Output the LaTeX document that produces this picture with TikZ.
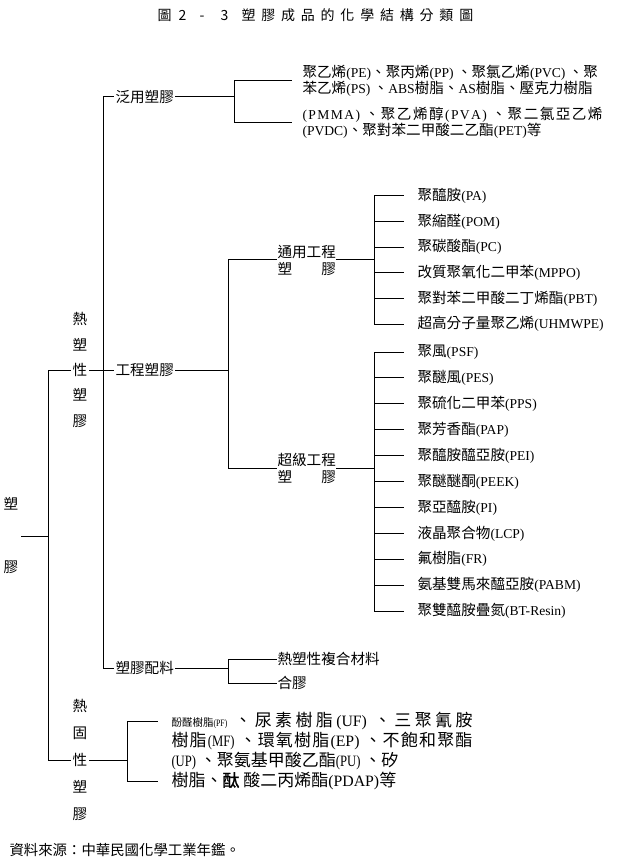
\documentclass[tikz,border=0pt]{standalone}
\usepackage{fontspec}
\usepackage{graphicx}
\setmainfont{Noto Sans CJK TC}
\newfontfamily\latinfont{Liberation Serif}[Scale=0.93]
\newcommand\latn[1]{{\latinfont #1}}
\newcommand\nlatn[1]{\scalebox{0.8}[1]{\latinfont #1}}
\newcommand\dg{\hskip 0pt plus 1fil\relax}
\newcommand\spreadto[2]{\makebox[#1][s]{#2}}
\newcommand\tch[1]{\makebox[21pt][l]{#1}}
\newcommand\tcm[1]{\makebox[19.8pt][l]{#1}}
\tikzset{
  base/.style={inner sep=0pt, font=\fontsize{14.6}{17}\selectfont},
  cat/.style={base, anchor=west, inner xsep=1pt},
  leaf/.style={base, anchor=west, inner xsep=13pt},
  col/.style={base, align=center, inner xsep=1.5pt},
  para/.style={base, anchor=west, align=left}
}
\begin{document}
\begin{tikzpicture}[x=1pt,y=-1pt,line width=1pt]
\useasboundingbox (0,0) rectangle (625,866);

% title
\node[base, anchor=west, font=\fontsize{14}{16}\selectfont] (title) at (157,15)
  {\tch{圖}\tch{2}\tch{-}\tch{3}\tcm{塑}\tcm{膠}\tcm{成}\tcm{品}\tcm{的}\tcm{化}\tcm{學}\tcm{結}\tcm{構}\tcm{分}\tcm{類}圖};

% root and first level
\node[col, font=\fontsize{14.6}{63}\selectfont, inner xsep=2.5pt] (root) at (11,536) {塑\\膠};
\node[col, font=\fontsize{14.6}{25.3}\selectfont] (tp) at (80,370) {熱\\塑\\性\\塑\\膠};
\node[col, font=\fontsize{14.6}{27}\selectfont] (tg) at (80,760) {熱\\固\\性\\塑\\膠};
\coordinate (L1) at (48,370);
\coordinate (L2) at (48,760);
\draw (root.east) -- (root.east -| L1);
\draw (tp.west) -- (L1) -- (L2) -- (tg.west);

% thermoplastic categories
\node[cat] (fy) at (114,97) {泛用塑膠};
\node[cat] (gc) at (114,370) {工程塑膠};
\node[cat] (pj) at (114,668) {塑膠配料};
\coordinate (M1) at (103,97);
\coordinate (M2) at (103,668);
\draw (M1) -- (fy.west);
\draw (M1) -- (M2) -- (pj.west);
\draw (tp.east) -- (gc.west);

% general purpose plastics
\node[para, inner xsep=10pt, font=\fontsize{14.6}{15}\selectfont] (fa) at (292,80.5)
  {聚乙烯\latn{(PE)}、聚丙烯\latn{(PP)} 、聚氯乙烯\latn{(PVC)} 、聚\\苯乙烯\latn{(PS)} 、\latn{ABS}樹脂、\latn{AS}樹脂、壓克力樹脂};
\node[para, inner xsep=10pt, font=\fontsize{14.6}{15}\selectfont] (fb) at (292,123)
  {\spreadto{300pt}{\latn{(\dg P\dg M\dg M\dg A\dg )} \dg 、\dg 聚\dg 乙\dg 烯\dg 醇\dg\latn{(\dg P\dg V\dg A\dg )} \dg 、\dg 聚\dg 二\dg 氯\dg 亞\dg 乙\dg 烯}\\\latn{(PVDC)}、聚對苯二甲酸二乙酯\latn{(PET)}等};
\coordinate (F) at (234,97);
\draw (fy.east) -- (F);
\draw (fa.west -| F) -- (fb.west -| F);
\draw (fa.west -| F) -- (fa.west);
\draw (fb.west -| F) -- (fb.west);

% engineering plastics
\coordinate (G) at (228,370);
\node[cat, align=left, inner xsep=0pt] (ty) at (277,260) {通用工程\\塑　　膠};
\node[cat, align=left, inner xsep=0pt] (cj) at (277,468) {超級工程\\塑　　膠};
\draw (gc.east) -- (G);
\draw (ty.west -| G) -- (cj.west -| G);
\draw (ty.west -| G) -- (ty.west);
\draw (cj.west -| G) -- (cj.west);

% general engineering leaves
\coordinate (T) at (374,260);
\draw (ty.east) -- (T);
\node[leaf] (u1) at (404,196) {聚醯胺\latn{(PA)}};
\node[leaf] (u2) at (404,221.6) {聚縮醛\latn{(POM)}};
\node[leaf] (u3) at (404,247.2) {聚碳酸酯\latn{(PC)}};
\node[leaf] (u4) at (404,272.8) {改質聚氧化二甲苯\latn{(MPPO)}};
\node[leaf] (u5) at (404,298.4) {聚對苯二甲酸二丁烯酯\latn{(PBT)}};
\node[leaf] (u6) at (404,324) {超高分子量聚乙烯\latn{(UHMWPE)}};
\draw (u1.west -| T) -- (u6.west -| T);
\foreach \n in {u1,u2,u3,u4,u5,u6} \draw (\n.west -| T) -- (\n.west);

% super engineering leaves
\coordinate (S) at (374,468);
\draw (cj.east) -- (S);
\node[leaf] (s1) at (404,352) {聚風\latn{(PSF)}};
\node[leaf] (s2) at (404,377.9) {聚醚風\latn{(PES)}};
\node[leaf] (s3) at (404,403.8) {聚硫化二甲苯\latn{(PPS)}};
\node[leaf] (s4) at (404,429.7) {聚芳香酯\latn{(PAP)}};
\node[leaf] (s5) at (404,455.6) {聚醯胺醯亞胺\latn{(PEI)}};
\node[leaf] (s6) at (404,481.5) {聚醚醚酮\latn{(PEEK)}};
\node[leaf] (s7) at (404,507.4) {聚亞醯胺\latn{(PI)}};
\node[leaf] (s8) at (404,533.3) {液晶聚合物\latn{(LCP)}};
\node[leaf] (s9) at (404,559.2) {氟樹脂\latn{(FR)}};
\node[leaf] (s10) at (404,585.1) {氨基雙馬來醯亞胺\latn{(PABM)}};
\node[leaf] (s11) at (404,611) {聚雙醯胺疊氮\latn{(BT-Resin)}};
\draw (s1.west -| S) -- (s11.west -| S);
\foreach \n in {s1,s2,s3,s4,s5,s6,s7,s8,s9,s10,s11} \draw (\n.west -| S) -- (\n.west);

% compounding
\coordinate (P) at (228,668);
\draw (pj.east) -- (P);
\node[cat, inner xsep=0pt] (p1) at (277,659) {熱塑性複合材料};
\node[cat, inner xsep=0pt] (p2) at (277,683) {合膠};
\draw (p1.west -| P) -- (p2.west -| P);
\draw (p1.west -| P) -- (p1.west);
\draw (p2.west -| P) -- (p2.west);

% thermosets
\coordinate (R) at (127,760);
\coordinate (R1) at (127,721);
\coordinate (R2) at (127,781);
\draw (tg.east) -- (R);
\node[para, inner xsep=13pt, font=\fontsize{17}{20}\selectfont] (tt) at (158,751)
  {\spreadto{301pt}{{\fontsize{10.5}{12}\selectfont 酚醛樹脂\nlatn{(PF)}} \dg 、\dg 尿\dg 素\dg 樹\dg 脂\dg\latn{(UF)} \dg 、\dg 三\dg 聚\dg 氰\dg 胺}\\\spreadto{301pt}{樹\dg 脂\dg\nlatn{(MF)} \dg 、\dg 環\dg 氧\dg 樹\dg 脂\dg\latn{(EP)} \dg 、\dg 不\dg 飽\dg 和\dg 聚\dg 酯}\\\nlatn{(UP)} 、聚氨基甲酸乙酯\nlatn{(PU)} 、矽\\樹脂、{\addfontfeature{FakeBold=1.5}酞} 酸二丙烯酯\latn{(PDAP)}等};
\draw (R1) -- (R2);
\draw (R1) -- (R1 -| tt.west);
\draw (R2) -- (R2 -| tt.west);

% source
\node[base, anchor=west, font=\fontsize{14.4}{17}\selectfont] (src) at (9,850) {資料來源：中華民國化學工業年鑑。};
\end{tikzpicture}
\end{document}
